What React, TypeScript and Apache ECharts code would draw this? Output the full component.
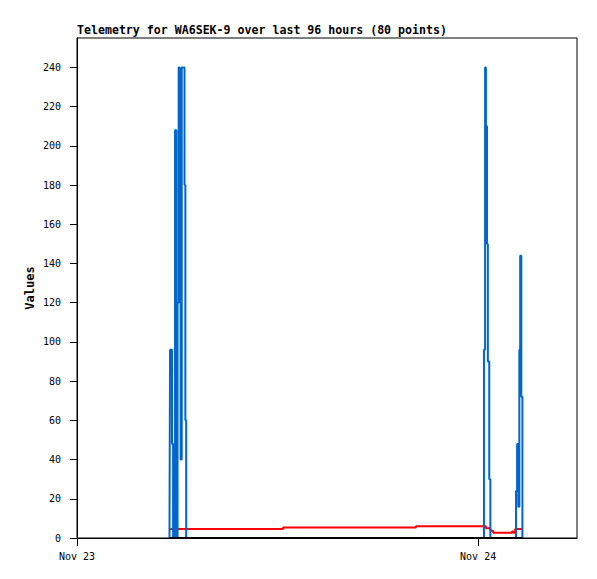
import React, { useEffect, useRef } from "react";
import * as echarts from "echarts";

// minutes after Nov 23 00:00
const times = [
  332, 334, 341, 345, 352, 357, 361, 365, 369, 372, 376, 386, 389, 392,
  740, 1217,
  1457, 1461, 1465, 1468, 1472, 1475, 1480, 1484, 1494,
  1562, 1567, 1573,
  1576, 1580, 1584, 1588, 1591, 1595, 1599,
];
const blueValues = [
  0, 96, 48, 0, 208, 0, 120, 240, 200, 40, 240, 180, 60, 0,
  0, 0,
  0, 96, 240, 210, 150, 90, 30, 0, 0,
  0, 0, 0,
  24, 48, 16, 96, 144, 72, 0,
];
const redValues = [
  4.6, 4.6, 4.6, 4.6, 4.6, 4.6, 4.6, 4.6, 4.6, 4.6, 4.6, 4.6, 4.6, 4.6,
  5.3, 6.0,
  6.0, 6.0, 6.0, 5.0, 5.0, 5.0, 5.0, 3.7, 2.7,
  3.3, 2.7, 4.6,
  4.6, 4.6, 4.6, 4.6, 4.6, 4.6, 4.6,
];
const blackValues = times.map(() => 0);

const xTickValues = [0, 1440];
const xTickLabels = ["Nov 23", "Nov 24"];
const yTickValues = [0, 20, 40, 60, 80, 100, 120, 140, 160, 180, 200, 220, 240];

const title = "Telemetry for WA6SEK-9 over last 96 hours (80 points)";
const mono = "DejaVu Sans Mono";

export default function App() {
  const ref = useRef<HTMLDivElement>(null);
  useEffect(() => {
    if (!ref.current) return;
    const chart = echarts.init(ref.current, undefined, { renderer: "svg" });
    const mk = (vals: number[]) => times.map((t, i) => [t, vals[i]]);
    chart.setOption({
      animation: false,
      backgroundColor: "#ffffff",
      title: {
        text: title,
        left: 77,
        top: 24,
        padding: 0,
        textStyle: { fontFamily: mono, fontWeight: "bold", fontSize: 11.6, color: "#000" },
      },
      grid: {
        left: 77,
        top: 38,
        width: 500,
        height: 500,
        show: true,
        borderColor: "#000",
        borderWidth: 1,
        backgroundColor: "transparent",
      },
      xAxis: {
        type: "value",
        min: 0,
        max: 1795,
        interval: 1440,
        axisLine: { show: true, lineStyle: { color: "#000", width: 1 } },
        axisTick: { show: true, length: 8, customValues: xTickValues, lineStyle: { color: "#000" } },
        splitLine: { show: false },
        axisLabel: {
          customValues: xTickValues,
          margin: 13,
          fontFamily: mono,
          fontSize: 10,
          color: "#000",
          formatter: (v: number) => {
            const i = xTickValues.indexOf(v);
            return i >= 0 ? xTickLabels[i] : "";
          },
        },
      },
      yAxis: {
        type: "value",
        min: 0,
        max: 255,
        interval: 20,
        name: "Values",
        nameLocation: "middle",
        nameGap: 41,
        nameMoveOverlap: false,
        nameTextStyle: { fontFamily: mono, fontWeight: "bold", fontSize: 12, color: "#000" },
        axisLine: { show: true, lineStyle: { color: "#000", width: 1 } },
        axisTick: { show: true, length: 7, customValues: yTickValues, lineStyle: { color: "#000" } },
        splitLine: { show: false },
        axisLabel: {
          customValues: yTickValues,
          margin: 16,
          fontFamily: mono,
          fontSize: 10,
          color: "#000",
        },
      },
      series: [
        {
          type: "line",
          step: "end",
          data: mk(redValues),
          showSymbol: false,
          lineStyle: { color: "#ff0000", width: 2 },
          itemStyle: { color: "#ff0000" },
        },
        {
          type: "line",
          step: "end",
          data: mk(blueValues),
          showSymbol: false,
          lineStyle: { color: "#0066cc", width: 2 },
          itemStyle: { color: "#0066cc" },
        },
        {
          type: "line",
          data: mk(blackValues),
          showSymbol: false,
          lineStyle: { color: "#000000", width: 2 },
          itemStyle: { color: "#000000" },
        },
      ],
    });
    return () => chart.dispose();
  }, []);
  return (
    <div
      ref={ref}
      style={{ position: "fixed", left: 0, top: 0, width: 597, height: 579, background: "#fff" }}
    />
  );
}
